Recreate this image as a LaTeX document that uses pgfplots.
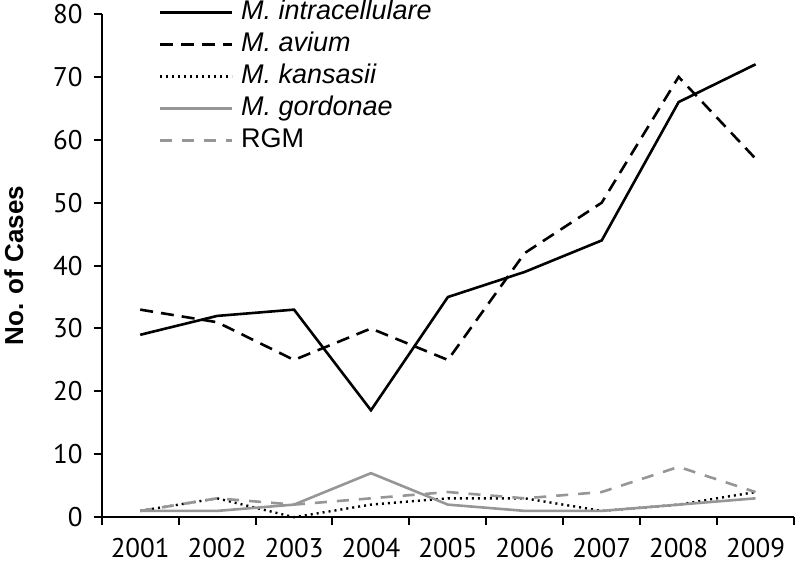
\documentclass[border=0pt]{standalone}
\usepackage{fontspec}
\setmainfont{Liberation Sans}
\newfontfamily\tickfont{PT Sans}
\usepackage{pgfplots}
\pgfplotsset{compat=1.18}
\definecolor{gline}{RGB}{150,150,150}
\begin{document}
\begin{tikzpicture}
\begin{axis}[
  name=ax,
  scale only axis,
  width=346pt, height=251.5pt,
  xmin=0.5, xmax=9.5, ymin=0, ymax=80,
  axis lines=left,
  axis line style={line width=1pt,-},
  xtick={0.5,1.5,...,9.5},
  x tick label as interval,
  xticklabels={2001,2002,2003,2004,2005,2006,2007,2008,2009},
  ytick={0,10,...,80},
  tick align=outside,
  major tick length=4pt,
  tick style={line width=1pt,black},
  ticklabel style={font=\tickfont\fontsize{13.5}{15}\selectfont},
  /pgf/number format/assume math mode=true,
  y tick label style={xshift=-2pt},
  x tick label style={yshift=-3pt},
  ylabel={\bfseries\fontsize{13}{15}\selectfont No. of Cases},
  ylabel style={yshift=8pt},
  clip=false,
  legend cell align=left,
  legend style={draw=none, fill=none, inner sep=0pt, at={(0.0814,1.028)}, anchor=north west,
    font=\fontsize{13.5}{15}\selectfont, row sep=4pt, column sep=4pt,
    nodes={inner sep=0pt, text height=9.5pt, text depth=2.5pt}},
  legend image code/.code={\draw[#1] (0pt,0pt) -- (36pt,0pt);},
]
\addplot[black, line width=1.3pt] coordinates {(1,29) (2,32) (3,33) (4,17) (5,35) (6,39) (7,44) (8,66) (9,72)};
\addlegendentry{\itshape M. intracellulare}
\addplot[black, line width=1.3pt, dash pattern=on 6.5pt off 4pt] coordinates {(1,33) (2,31) (3,25) (4,30) (5,25) (6,42) (7,50) (8,70) (9,57)};
\addlegendentry{\itshape M. avium}
\addplot[black, line width=1.2pt, dash pattern=on 1pt off 2pt] coordinates {(1,1) (2,3) (3,0) (4,2) (5,3) (6,3) (7,1) (8,2) (9,4)};
\addlegendentry{\itshape M. kansasii}
\addplot[gline, line width=1.3pt] coordinates {(1,1) (2,1) (3,2) (4,7) (5,2) (6,1) (7,1) (8,2) (9,3)};
\addlegendentry{\itshape M. gordonae}
\addplot[gline, line width=1.3pt, dash pattern=on 6pt off 5pt] coordinates {(1,1) (2,3) (3,2) (4,3) (5,4) (6,3) (7,4) (8,8) (9,4)};
\addlegendentry{RGM}
\end{axis}
\pgfresetboundingbox
\path ([shift={(-50.85pt,-25.3pt)}]ax.south west) rectangle ([shift={(3pt,7pt)}]ax.north east);
\end{tikzpicture}
\end{document}
